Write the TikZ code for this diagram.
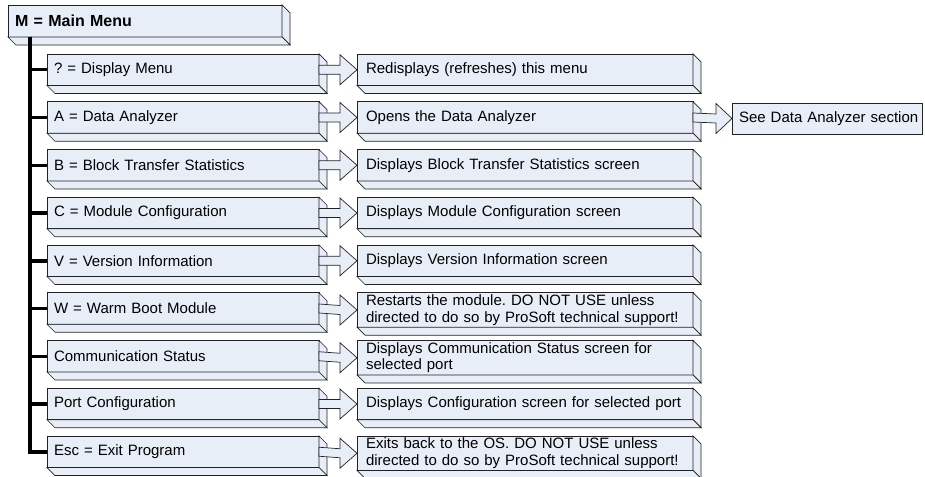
\documentclass[tikz,border=0pt]{standalone}
\usepackage{fontspec}
\setmainfont{Liberation Sans}
\frenchspacing
\definecolor{boxfill}{HTML}{E8EEF8}
\definecolor{boxline}{HTML}{222222}
\newcommand\tdarrow[3][17]{%
  \filldraw[face] ([shift={(0,-4.5)}]#2.east) -- ([shift={(-#1,-4.5)}]#3.west) -- ([shift={(-#1,-15)}]#3.west) -- (#3.west)
    -- ([shift={(-#1,15)}]#3.west) -- ([shift={(-#1,4.5)}]#3.west) -- ([shift={(0,4.5)}]#2.east) -- cycle;}
\begin{document}
\begin{tikzpicture}[x=1pt,y=-1pt,
  face/.style={fill=boxfill,draw=boxline,line width=0.7pt,line join=miter},
  tdbox/.style={face,rectangle,anchor=north west,outer sep=0pt,minimum height=31.5pt,inner ysep=2pt,align=left,font=\fontsize{15}{16.5}\selectfont},
  lbox/.style={tdbox,minimum width=272pt,text width=258pt,inner xsep=7pt},
  rbox/.style={tdbox,minimum width=336pt,text width=318pt,inner xsep=9pt},
  trunk/.style={draw=black,line width=3.5pt}]
\useasboundingbox (0,0) rectangle (925,476);

\node[tdbox,minimum width=274pt,text width=260pt,inner xsep=7pt,minimum height=32pt,font=\fontsize{16}{18}\selectfont\bfseries] (main) at (8,5) {M = Main Menu};

\node[lbox] (l1) at (47,54)     {? = Display Menu};
\node[lbox] (l2) at (47,101.75) {A = Data Analyzer};
\node[lbox] (l3) at (47,149.5)  {B = Block Transfer Statistics};
\node[lbox] (l4) at (47,197.25) {C = Module Configuration};
\node[lbox] (l5) at (47,245)    {V = Version Information};
\node[lbox] (l6) at (47,292.75) {W = Warm Boot Module};
\node[lbox] (l7) at (47,340.5)  {Communication Status};
\node[lbox] (l8) at (47,388.25) {Port Configuration};
\node[lbox] (l9) at (47,436)    {Esc = Exit Program};

\node[rbox] (r1) at (357,54)     {Redisplays (refreshes) this menu};
\node[rbox] (r2) at (357,101.75) {Opens the Data Analyzer};
\node[rbox] (r3) at (357,149.5)  {Displays Block Transfer Statistics screen};
\node[rbox] (r4) at (357,197.25) {Displays Module Configuration screen};
\node[rbox] (r5) at (357,245)    {Displays Version Information screen};
\node[rbox] (r6) at (357,292.75) {Restarts the module. DO NOT USE unless\\directed to do so by ProSoft technical support!};
\node[rbox] (r7) at (357,340.5)  {Displays Communication Status screen for\\selected port};
\node[rbox] (r8) at (357,388.25) {Displays Configuration screen for selected port};
\node[rbox] (r9) at (357,436)    {Exits back to the OS. DO NOT USE unless\\directed to do so by ProSoft technical support!};

\node[tdbox,minimum width=190pt,text width=184pt,inner xsep=3pt,minimum height=31pt] (sa) at (732,103) {\hspace*{4pt}See Data Analyzer section};

\foreach \n in {main,l1,l2,l3,l4,l5,l6,l7,l8,l9,r1,r2,r3,r4,r5,r6,r7,r8,r9} {
  \filldraw[face] (\n.north east) -- ([shift={(8,8)}]\n.north east) -- ([shift={(8,8)}]\n.south east) -- (\n.south east) -- cycle;
  \filldraw[face] (\n.south west) -- (\n.south east) -- ([shift={(8,8)}]\n.south east) -- ([shift={(8,8)}]\n.south west) -- cycle;
}

\foreach \i in {1,...,9} { \tdarrow{l\i}{r\i} }
\tdarrow[16]{r2}{sa}

\foreach \i in {1,...,9} { \draw[trunk] ([shift={(22,0)}]main.south west) |- (l\i.west); }
\end{tikzpicture}
\end{document}
